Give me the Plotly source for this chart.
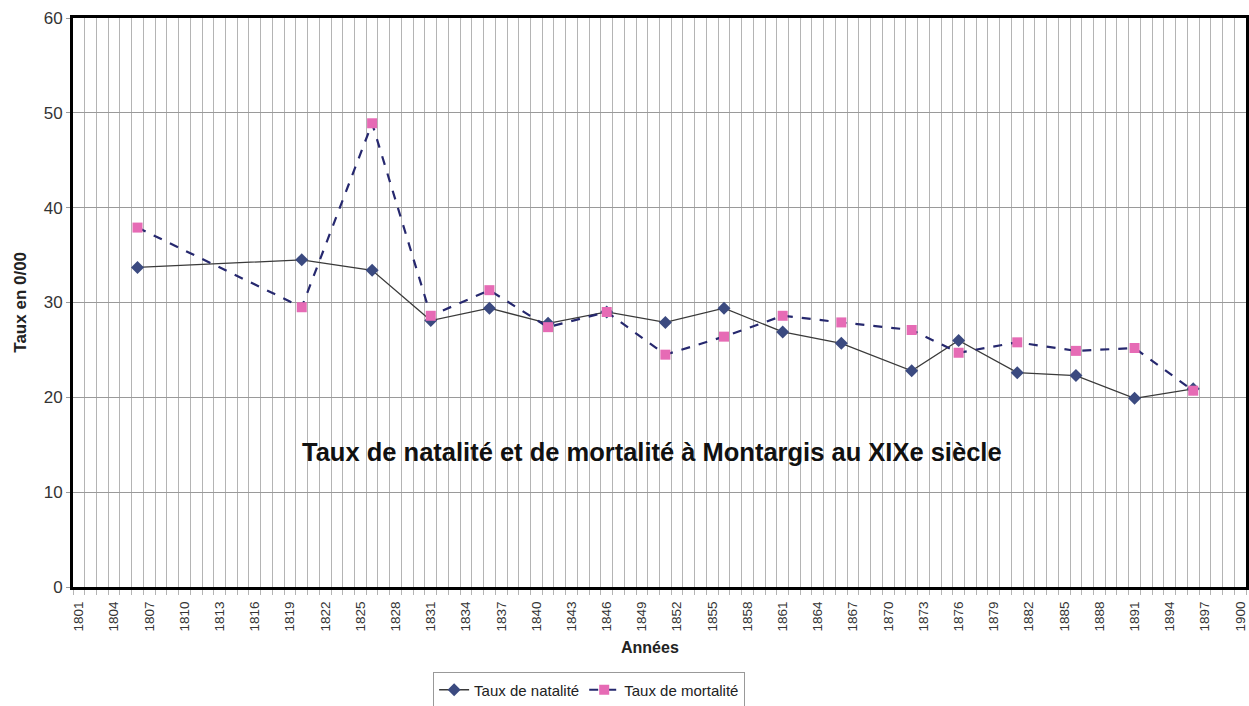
import plotly.graph_objects as go

years_all = list(range(1801, 1901))
tick_years = list(range(1801, 1901, 3))

census_years = [1806, 1820, 1826, 1831, 1836, 1841, 1846, 1851, 1856, 1861,
                1866, 1872, 1876, 1881, 1886, 1891, 1896]
natalite = [33.7, 34.5, 33.4, 28.1, 29.4, 27.8, 29.0, 27.9, 29.4, 26.9,
            25.7, 22.8, 26.0, 22.6, 22.3, 19.9, 20.9]
mortalite = [37.9, 29.5, 48.9, 28.6, 31.3, 27.4, 29.0, 24.5, 26.4, 28.6,
             27.9, 27.1, 24.7, 25.8, 24.9, 25.2, 20.7]

FONT = "Liberation Sans, Arial, sans-serif"

fig = go.Figure()
fig.add_trace(go.Scatter(
    x=census_years, y=natalite, name="Taux de natalité", mode="lines+markers",
    line=dict(color="#3a3a3a", width=1.3),
    marker=dict(symbol="diamond", size=10, color="#3b4a80"),
))
fig.add_trace(go.Scatter(
    x=census_years, y=mortalite, name="Taux de mortalité", mode="lines+markers",
    line=dict(color="#26286e", width=2.2, dash="dash"),
    marker=dict(symbol="square", size=10, color="#e66bb5"),
))

fig.update_layout(
    width=1249, height=706,
    margin=dict(l=73, r=3, t=18, b=119, autoexpand=False),
    paper_bgcolor="white", plot_bgcolor="white",
    font=dict(family=FONT, color="#222"),
    showlegend=True,
    legend=dict(orientation="h", x=0.44, xanchor="center", y=-0.181, yanchor="middle",
                bordercolor="#999", borderwidth=1, font=dict(size=15, family=FONT),
                tracegroupgap=0, itemwidth=30),
    xaxis=dict(
        range=[1800.5, 1900.5], tickmode="array", tickvals=tick_years,
        ticktext=[str(y) for y in tick_years], tickangle=-90, automargin=False,
        tickfont=dict(size=13.5, family=FONT, color="#333"), showgrid=False, zeroline=False,
        showline=True, linecolor="black", linewidth=3, mirror=True,
        ticks="", ticklen=4, ticklabelstandoff=6,
        minor=dict(tickmode="array", tickvals=[y - 0.5 for y in years_all] + [1900.5],
                   showgrid=True, gridcolor="#b4b4b4", gridwidth=1, ticks="outside",
                   ticklen=5, tickcolor="#b4b4b4"),
    ),
    yaxis=dict(
        range=[0, 60], tickmode="linear", tick0=0, dtick=10, automargin=False,
        tickfont=dict(size=17, family=FONT, color="#333"), showgrid=True, gridcolor="#9a9a9a",
        gridwidth=1, zeroline=False, showline=True, linecolor="black",
        linewidth=3, mirror=True, ticks="outside", ticklen=4, tickcolor="#9a9a9a",
    ),
    annotations=[
        dict(text="<b>Taux de natalité et de mortalité à Montargis au XIXe siècle</b>",
             xref="paper", yref="paper", x=0.494, y=0.237, showarrow=False,
             xanchor="center", yanchor="middle",
             font=dict(size=25.5, family=FONT, color="#111")),
        dict(text="<b>Années</b>", xref="paper", yref="paper", x=0.492, y=-0.107,
             showarrow=False, xanchor="center", yanchor="middle",
             font=dict(size=16, family=FONT, color="#222")),
        dict(text="<b>Taux en 0/00</b>", xref="paper", yref="paper", x=-0.045,
             y=0.5, textangle=-90, showarrow=False, xanchor="center", yanchor="middle",
             font=dict(size=17, family=FONT, color="#222")),
    ],
)

fig.write_html("out.html", config={"displayModeBar": False},
               post_script="document.body.style.margin='0';document.body.style.overflow='hidden';")
